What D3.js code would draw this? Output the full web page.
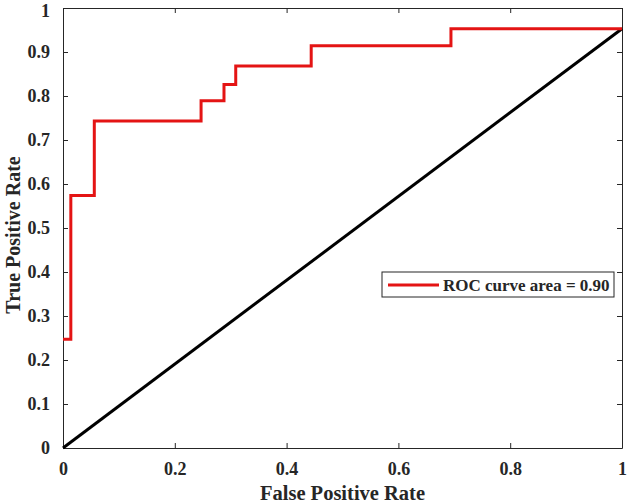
<!DOCTYPE html>
<html>
<head>
<meta charset="utf-8">
<script src="https://cdn.jsdelivr.net/npm/d3@7"></script>
<style>
  body { margin: 0; background: #fff; }
  svg text { font-family: "Liberation Serif", "Times New Roman", serif; font-weight: bold; fill: #262626; }
</style>
</head>
<body>
<div id="chart"></div>
<script>
// ROC curve points (false positive rate, true positive rate)
const fpr = [0, 0.014, 0.014, 0.056, 0.056, 0.247, 0.247, 0.288, 0.288, 0.309, 0.309, 0.444, 0.444, 0.694, 0.694, 1];
const tpr = [0.247, 0.247, 0.574, 0.574, 0.743, 0.743, 0.789, 0.789, 0.826, 0.826, 0.868, 0.868, 0.914, 0.914, 0.953, 0.953];

// chance line
const chanceX = [0, 1];
const chanceY = [0, 0.953];

const xTicks = [0, 0.2, 0.4, 0.6, 0.8, 1];
const yTicks = [0, 0.1, 0.2, 0.3, 0.4, 0.5, 0.6, 0.7, 0.8, 0.9, 1];
const legendLabel = "ROC curve area = 0.90";

const width = 630;
const height = 504;
const margin = { top: 8, right: 8, bottom: 56, left: 63 };

const usableArea = {
    top: margin.top,
    right: width - margin.right,
    bottom: height - margin.bottom,
    left: margin.left,
};

const svg = d3.select("#chart")
    .append("svg")
    .attr("width", width)
    .attr("height", height);

const xScale = d3.scaleLinear().domain([0, 1]).range([usableArea.left, usableArea.right]);
const yScale = d3.scaleLinear().domain([0, 1]).range([usableArea.bottom, usableArea.top]);

const fmt = d => d === 0 || d === 1 ? String(d) : d.toFixed(1);

// axes with inward ticks on all four sides (box on)
const axisColor = "#262626";
function styleAxis(g) {
    g.select(".domain").attr("stroke", axisColor).attr("stroke-width", 1);
    g.selectAll(".tick line").attr("stroke", axisColor);
}

svg.append("g")
    .attr("transform", `translate(0, ${usableArea.bottom})`)
    .call(d3.axisBottom(xScale).tickValues(xTicks).tickFormat(fmt).tickSizeInner(-5).tickSizeOuter(0).tickPadding(14))
    .call(styleAxis)
    .selectAll("text").style("font-size", "18px").attr("fill", axisColor);

svg.append("g")
    .attr("transform", `translate(${usableArea.left}, 0)`)
    .call(d3.axisLeft(yScale).tickValues(yTicks).tickFormat(fmt).tickSizeInner(-5).tickSizeOuter(0).tickPadding(13))
    .call(styleAxis)
    .selectAll("text")
    .style("font-size", "18px")
    .attr("fill", axisColor)
    .attr("y", d => d === 1 ? 3 : 0); // top label sits a little lower, as in the picture

svg.append("g")
    .attr("transform", `translate(0, ${usableArea.top})`)
    .call(d3.axisTop(xScale).tickValues(xTicks).tickFormat("").tickSizeInner(-5).tickSizeOuter(0))
    .call(styleAxis);

svg.append("g")
    .attr("transform", `translate(${usableArea.right}, 0)`)
    .call(d3.axisRight(yScale).tickValues(yTicks).tickFormat("").tickSizeInner(-5).tickSizeOuter(0))
    .call(styleAxis);

// chance diagonal
const line = d3.line().x(d => xScale(d[0])).y(d => yScale(d[1]));
svg.append("path")
    .datum(d3.zip(chanceX, chanceY))
    .attr("d", line)
    .attr("fill", "none")
    .attr("stroke", "#000")
    .attr("stroke-width", 3);

// ROC curve
svg.append("path")
    .datum(d3.zip(fpr, tpr))
    .attr("d", line)
    .attr("fill", "none")
    .attr("stroke", "#e41414")
    .attr("stroke-width", 3)
    .attr("stroke-linejoin", "miter");

// axis titles
svg.append("text")
    .attr("x", (usableArea.left + usableArea.right) / 2)
    .attr("y", 500)
    .attr("text-anchor", "middle")
    .style("font-size", "20.5px")
    .text("False Positive Rate");

svg.append("text")
    .attr("transform", `translate(20, ${(usableArea.top + usableArea.bottom) / 2 + 7}) rotate(-90)`)
    .attr("text-anchor", "middle")
    .style("font-size", "20px")
    .text("True Positive Rate");

// legend
const legend = svg.append("g").attr("transform", "translate(382, 272)");
legend.append("rect")
    .attr("width", 232)
    .attr("height", 25)
    .attr("fill", "#fff")
    .attr("stroke", axisColor)
    .attr("stroke-width", 1);
legend.append("line")
    .attr("x1", 6).attr("x2", 57)
    .attr("y1", 13).attr("y2", 13)
    .attr("stroke", "#e41414")
    .attr("stroke-width", 3);
legend.append("text")
    .attr("x", 61)
    .attr("y", 18.5)
    .style("font-size", "17px")
    .text(legendLabel);
</script>
</body>
</html>
